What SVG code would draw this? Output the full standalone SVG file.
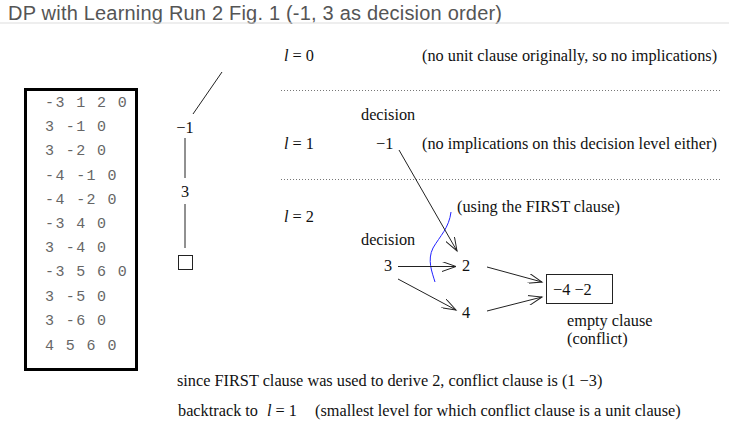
<svg xmlns="http://www.w3.org/2000/svg" width="729" height="422" viewBox="0 0 729 422">
<style>
.t{font-family:"Liberation Serif",serif;font-size:16.3px;fill:#111}
.m{font-family:"Liberation Mono",monospace;font-size:15px;letter-spacing:1.4px;fill:#666}
.ln{stroke:#222;stroke-width:1;fill:none}
.dot{stroke:#777;stroke-width:1;stroke-dasharray:1 2;fill:none}
</style>
<defs>
<marker id="ah" markerWidth="16" markerHeight="10" refX="14" refY="5" orient="auto" markerUnits="userSpaceOnUse">
<path d="M0,0 L14,5 L0,10" fill="none" stroke="#222" stroke-width="1"/>
</marker>
</defs>
<rect width="729" height="422" fill="#fff"/>
<g id="title">
<text x="8" y="20" font-family="Liberation Sans,sans-serif" font-size="20" fill="#555" textLength="494">DP with Learning Run 2 Fig. 1 (-1, 3 as decision order)</text>
<line x1="0" y1="23" x2="729" y2="23" stroke="#ddd" stroke-width="1"/>
</g>
<g id="clauses">
<rect x="25.5" y="89.5" width="111" height="280" fill="#fff" stroke="#000" stroke-width="3"/>
<text class="m" x="45" y="107">-3 1 2 0</text>
<text class="m" x="45" y="131">3 -1 0</text>
<text class="m" x="45" y="155">3 -2 0</text>
<text class="m" x="45" y="180">-4 -1 0</text>
<text class="m" x="45" y="204">-4 -2 0</text>
<text class="m" x="45" y="228">-3 4 0</text>
<text class="m" x="45" y="252">3 -4 0</text>
<text class="m" x="45" y="276">-3 5 6 0</text>
<text class="m" x="45" y="301">3 -5 0</text>
<text class="m" x="45" y="325">3 -6 0</text>
<text class="m" x="45" y="350">4 5 6 0</text>
</g>
<g id="tree">
<line class="ln" x1="222" y1="72" x2="193" y2="114"/>
<text class="t" x="185" y="133" text-anchor="middle">−1</text>
<line class="ln" x1="185" y1="138" x2="185" y2="178"/>
<text class="t" x="185" y="197" text-anchor="middle">3</text>
<line class="ln" x1="185" y1="204" x2="185" y2="248"/>
<rect x="178.5" y="255.5" width="14" height="14" fill="none" stroke="#222"/>
</g>
<g id="levels">
<text class="t" x="284" y="61"><tspan font-style="italic">l</tspan> = 0</text>
<text class="t" x="422" y="61">(no unit clause originally, so no implications)</text>
<line class="dot" x1="281" y1="90.5" x2="722" y2="90.5"/>
<text class="t" x="361" y="120">decision</text>
<text class="t" x="284" y="149"><tspan font-style="italic">l</tspan> = 1</text>
<text class="t" x="422" y="149">(no implications on this decision level either)</text>
<line class="dot" x1="281" y1="179.5" x2="722" y2="179.5"/>
<text class="t" x="284" y="222"><tspan font-style="italic">l</tspan> = 2</text>
<text class="t" x="361" y="245">decision</text>
</g>
<g id="n-1"><text class="t" x="376" y="149">−1</text></g>
<g id="n3"><text class="t" x="384" y="271">3</text></g>
<g id="n2"><text class="t" x="462" y="271">2</text></g>
<g id="n4"><text class="t" x="462" y="318">4</text></g>
<g id="conflict">
<rect x="546.5" y="274.5" width="66" height="29" fill="#fff" stroke="#222"/>
<text class="t" x="553" y="295">−4 −2</text>
<text class="t" x="567" y="326">empty clause</text>
<text class="t" x="567" y="344">(conflict)</text>
</g>
<g id="note">
<text class="t" x="457" y="212">(using the FIRST clause)</text>
<path d="M451,212 C449,228 440,236 433,248 C427,260 432,272 435,282" fill="none" stroke="#22f" stroke-width="1"/>
</g>
<g id="connectors">
<line class="ln" x1="399" y1="150" x2="457" y2="251" marker-end="url(#ah)"/>
<line class="ln" x1="398" y1="266.5" x2="456" y2="266.5" marker-end="url(#ah)" stroke="#666"/>
<line class="ln" x1="398" y1="279" x2="456" y2="310" marker-end="url(#ah)"/>
<line class="ln" x1="487" y1="267" x2="542" y2="282" marker-end="url(#ah)"/>
<line class="ln" x1="487" y1="311" x2="542" y2="297" marker-end="url(#ah)"/>
</g>
<g id="bottom">
<text class="t" x="177" y="386">since FIRST clause was used to derive 2, conflict clause is (1 −3)</text>
<text class="t" y="416"><tspan x="178">backtrack to</tspan><tspan x="267" font-style="italic">l</tspan><tspan> = 1</tspan><tspan x="315">(smallest level for which conflict clause is a unit clause)</tspan></text>
</g>
</svg>
